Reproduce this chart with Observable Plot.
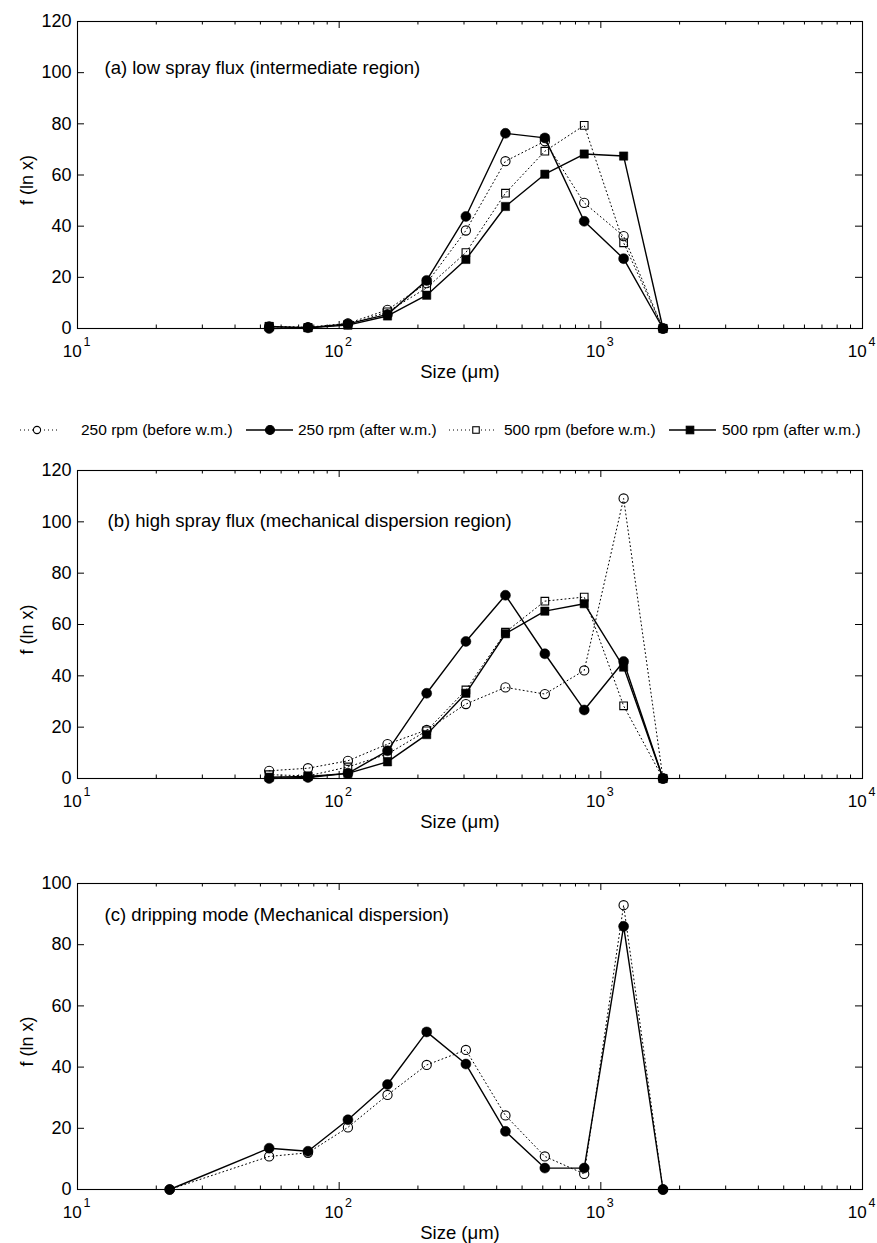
<!DOCTYPE html>
<html><head><meta charset="utf-8">
<script src="https://cdn.jsdelivr.net/npm/d3@7"></script>
<script src="https://cdn.jsdelivr.net/npm/@observablehq/plot@0.6"></script>
<style>
body{margin:0;background:#fff;}
#root{position:relative;width:877px;height:1243px;background:#fff;font-family:"Liberation Sans",Arial,Helvetica,sans-serif;overflow:hidden;}
.panel{position:absolute;left:0;}
</style></head><body><div id="root"></div>
<script>
// ---------- data ----------
const sizes  = [54, 76, 108, 153, 216, 305, 432, 611, 864, 1222, 1728];
const sizesC = [22.5, 54, 76, 108, 153, 216, 305, 432, 611, 864, 1222, 1728];
const seriesNames = ["250 rpm (before w.m.)", "250 rpm (after w.m.)", "500 rpm (before w.m.)", "500 rpm (after w.m.)"];

// (a) low spray flux
const a250before = [0.8, 0.5, 2.0, 7.3, 17.7, 38.3, 65.4, 73.2, 49.1, 36.1, 0];
const a250after  = [0.0, 0.3, 1.8, 5.5, 18.8, 43.8, 76.3, 74.5, 41.9, 27.3, 0];
const a500before = [0.8, 0.3, 1.5, 6.5, 15.9, 29.7, 52.9, 69.3, 79.4, 33.5, 0];
const a500after  = [0.8, 0.3, 1.3, 4.9, 13.0, 27.0, 47.7, 60.3, 68.2, 67.4, 0];
// (b) high spray flux
const b250before = [3.0, 4.0, 6.9, 13.4, 18.9, 29.0, 35.5, 32.9, 42.1, 109.1, 0];
const b250after  = [0.0, 0.4, 2.0, 10.8, 33.2, 53.4, 71.4, 48.6, 26.7, 45.6, 0];
const b500before = [1.5, 1.0, 4.5, 9.5, 18.6, 34.5, 57.0, 69.1, 70.7, 28.3, 0];
const b500after  = [0.5, 0.8, 2.0, 6.5, 17.1, 33.2, 56.4, 65.2, 68.1, 43.4, 0];
// (c) dripping mode
const c250before = [0, 10.8, 12.0, 20.3, 30.9, 40.7, 45.6, 24.2, 10.8, 5.1, 92.9, 0];
const c250after  = [0, 13.5, 12.5, 22.8, 34.3, 51.5, 41.0, 19.0, 7.0, 7.0, 86.0, 0];

const decades = [10, 100, 1000, 10000];
const minorTicks = [10, 100, 1000].flatMap(d => [2,3,4,5,6,7,8,9].map(k => k * d));
const yTicksAB = [0, 20, 40, 60, 80, 100, 120];
const yTicksC  = [0, 20, 40, 60, 80, 100];
const titles = ["(a) low spray flux (intermediate region)",
                "(b) high spray flux (mechanical dispersion region)",
                "(c) dripping mode (Mechanical dispersion)"];
const xLabel = "Size (\u03bcm)";
const yLabel = "f (ln x)";

// ---------- styles ----------
const styles = {
  "250 rpm (before w.m.)": {dotted: true,  symbol: "circle", filled: false},
  "250 rpm (after w.m.)":  {dotted: false, symbol: "circle", filled: true},
  "500 rpm (before w.m.)": {dotted: true,  symbol: "square", filled: false},
  "500 rpm (after w.m.)":  {dotted: false, symbol: "square", filled: true}
};
const FONT = '"Liberation Sans", Arial, Helvetica, sans-serif';

function markerR(st) {
  if (st.symbol === "circle") return st.filled ? 5 : 4.6;
  return st.filled ? 4.7 : 4.3;
}

function panel({height, mt, mb, ymax, yticks, xs, series, title, tdx, tdy}) {
  const W = 877, ml = 77, mr = 15;
  const ph = height - mt - mb, pw = W - ml - mr;
  const marks = [
    Plot.ruleX(decades, {insetTop: ph - 7, stroke: "black", strokeWidth: 1}),
    Plot.ruleX(decades, {insetBottom: ph - 7, stroke: "black", strokeWidth: 1}),
    Plot.ruleX(minorTicks, {insetTop: ph - 3.5, stroke: "black", strokeWidth: 1}),
    Plot.ruleX(minorTicks, {insetBottom: ph - 3.5, stroke: "black", strokeWidth: 1}),
    Plot.ruleY(yticks, {insetRight: pw - 7, stroke: "black", strokeWidth: 1}),
    Plot.ruleY(yticks, {insetLeft: pw - 7, stroke: "black", strokeWidth: 1}),
    Plot.frame({stroke: "black", strokeWidth: 1.1})
  ];
  for (const s of series) {
    const st = styles[s.name];
    const rows = xs.map((x, i) => ({x, y: s.values[i]}));
    marks.push(Plot.line(rows, {x: "x", y: "y", stroke: "black",
      strokeWidth: st.dotted ? 1 : 1.4,
      ...(st.dotted ? {strokeDasharray: "1,3"} : {})}));
    marks.push(Plot.dot(rows, {x: "x", y: "y", symbol: st.symbol, r: markerR(st),
      fill: st.filled ? "black" : "none", stroke: "black", strokeWidth: st.filled ? 0.5 : 1.1}));
  }
  marks.push(
    Plot.axisY(yticks, {anchor: "left", tickSize: 0, tickPadding: 6, fontSize: 18, label: null}),
    Plot.axisX(decades, {anchor: "bottom", tickSize: 0, tickPadding: 16.5, fontSize: 17, dx: -5.3,
      tickFormat: () => "10", label: null}),
    Plot.axisX(decades, {anchor: "bottom", tickSize: 0, tickPadding: 8.5, fontSize: 12.5, dx: 9.4,
      tickFormat: d => String(Math.round(Math.log10(d))), label: null}),
    Plot.text([yLabel], {text: d => d, frameAnchor: "left", rotate: -90, dx: -50, dy: 5,
      fontSize: 18, textAnchor: "middle", lineAnchor: "middle"}),
    Plot.text([xLabel], {text: d => d, frameAnchor: "bottom", dx: -10, dy: 44,
      fontSize: 18.5, textAnchor: "middle", lineAnchor: "middle"}),
    Plot.text([title], {text: d => d, frameAnchor: "top-left", dx: tdx, dy: tdy,
      fontSize: 18.5, textAnchor: "start", lineAnchor: "middle"})
  );
  return Plot.plot({
    width: W, height, marginTop: mt, marginBottom: mb, marginLeft: ml, marginRight: mr,
    x: {type: "log", domain: [10, 10000]},
    y: {domain: [0, ymax]},
    style: {fontFamily: FONT, fontSize: "18px", color: "black", background: "white", overflow: "visible"},
    marks
  });
}

const root = document.getElementById("root");
function place(node, top) {
  const d = document.createElement("div");
  d.className = "panel";
  d.style.top = top + "px";
  d.appendChild(node);
  root.appendChild(d);
}

place(panel({height: 390, mt: 21, mb: 62, ymax: 120, yticks: yTicksAB, xs: sizes,
  series: [
    {name: seriesNames[0], values: a250before},
    {name: seriesNames[1], values: a250after},
    {name: seriesNames[2], values: a500before},
    {name: seriesNames[3], values: a500after}],
  title: titles[0], tdx: 27, tdy: 46.5}), 0);

place(panel({height: 390, mt: 20, mb: 62, ymax: 120, yticks: yTicksAB, xs: sizes,
  series: [
    {name: seriesNames[0], values: b250before},
    {name: seriesNames[1], values: b250after},
    {name: seriesNames[2], values: b500before},
    {name: seriesNames[3], values: b500after}],
  title: titles[1], tdx: 30, tdy: 51}), 450);

place(panel({height: 381, mt: 21, mb: 54, ymax: 100, yticks: yTicksC, xs: sizesC,
  series: [
    {name: seriesNames[0], values: c250before},
    {name: seriesNames[1], values: c250after}],
  title: titles[2], tdx: 27, tdy: 31.5}), 862);

// ---------- legend ----------
const legendLayout = [
  {x0: 20, x1: 57, mx: 37, tx: 81},
  {x0: 246, x1: 293, mx: 270, tx: 298},
  {x0: 449, x1: 497, mx: 476, tx: 504},
  {x0: 669, x1: 716, mx: 690, tx: 722}
];
const lg = d3.create("svg").attr("width", 877).attr("height", 30)
  .style("font-family", FONT).style("font-size", "15.5px");
const cy = 15;
seriesNames.forEach((name, i) => {
  const st = styles[name], L = legendLayout[i];
  lg.append("line").attr("x1", L.x0).attr("x2", L.x1).attr("y1", cy).attr("y2", cy)
    .attr("stroke", "black").attr("stroke-width", st.dotted ? 1 : 1.4)
    .attr("stroke-dasharray", st.dotted ? "1,3" : null);
  if (st.symbol === "circle") {
    lg.append("circle").attr("cx", L.mx).attr("cy", cy).attr("r", st.filled ? 4.5 : 3.6)
      .attr("fill", st.filled ? "black" : "white").attr("stroke", "black").attr("stroke-width", 1.1);
  } else {
    const s = st.filled ? 7.5 : 6.5;
    lg.append("rect").attr("x", L.mx - s / 2).attr("y", cy - s / 2).attr("width", s).attr("height", s)
      .attr("fill", st.filled ? "black" : "white").attr("stroke", "black").attr("stroke-width", 1.1);
  }
  lg.append("text").attr("x", L.tx).attr("y", cy).attr("dy", "0.35em").attr("fill", "black").text(name);
});
place(lg.node(), 415);
</script></body></html>
